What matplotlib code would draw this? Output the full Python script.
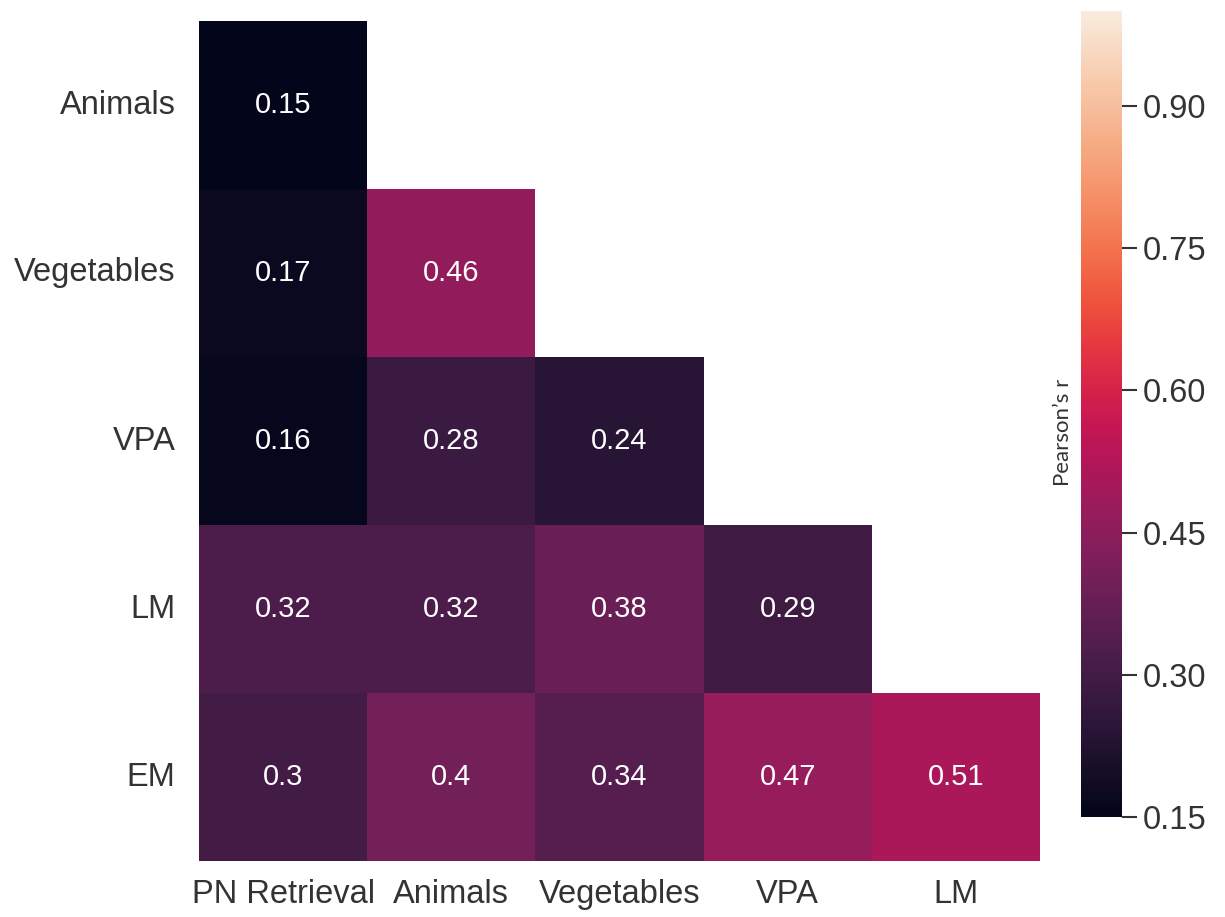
import numpy as np
import matplotlib
matplotlib.use("Agg")
import matplotlib.pyplot as plt
import seaborn as sns

# correlation values (lower triangle, row-major)
row_labels = ["Animals", "Vegetables", "VPA", "LM", "EM"]
col_labels = ["PN Retrieval", "Animals", "Vegetables", "VPA", "LM"]
r_animals = [0.15]
r_vegetables = [0.17, 0.46]
r_vpa = [0.16, 0.28, 0.24]
r_lm = [0.32, 0.32, 0.38, 0.29]
r_em = [0.30, 0.40, 0.34, 0.47, 0.51]
cbar_ticks = [0.15, 0.30, 0.45, 0.60, 0.75, 0.90]

rows = [r_animals, r_vegetables, r_vpa, r_lm, r_em]
n = len(row_labels)
mat = np.full((n, len(col_labels)), np.nan)
for i, r in enumerate(rows):
    mat[i, :len(r)] = r
mask = np.isnan(mat)

plt.rcParams["font.family"] = ["Liberation Sans", "DejaVu Sans"]

W, H = 1225, 917
fig = plt.figure(figsize=(W / 100, H / 100), dpi=100)
ax = fig.add_axes([199 / W, (H - 861) / H, 841 / W, 840 / H])
cax = fig.add_axes([1081 / W, (H - 817) / H, 41 / W, 806 / H])

sns.heatmap(mat, mask=mask, cmap="rocket", vmin=0.15, vmax=1.0,
            annot=True, fmt=".2g", annot_kws={"size": 21, "color": "white"},
            xticklabels=col_labels, yticklabels=row_labels,
            ax=ax, cbar_ax=cax, cbar_kws={"ticks": cbar_ticks})

ax.tick_params(axis="both", length=0, labelsize=23.5, colors="#333333")
ax.tick_params(axis="y", pad=17, rotation=0)
ax.tick_params(axis="x", pad=13, rotation=0)

cax.tick_params(length=11, width=1.5, labelsize=23.5, pad=4, colors="#333333")
cax.set_yticklabels([f"{t:.2f}" for t in cbar_ticks])
for s in cax.spines.values():
    s.set_visible(False)

fig.text(1063 / W, 1 - 432 / H, "Pearson\u2019s r", rotation=90, ha="center",
         va="center", fontsize=16, family="Lato", color="#333333")

fig.savefig("out.png", dpi=100)
